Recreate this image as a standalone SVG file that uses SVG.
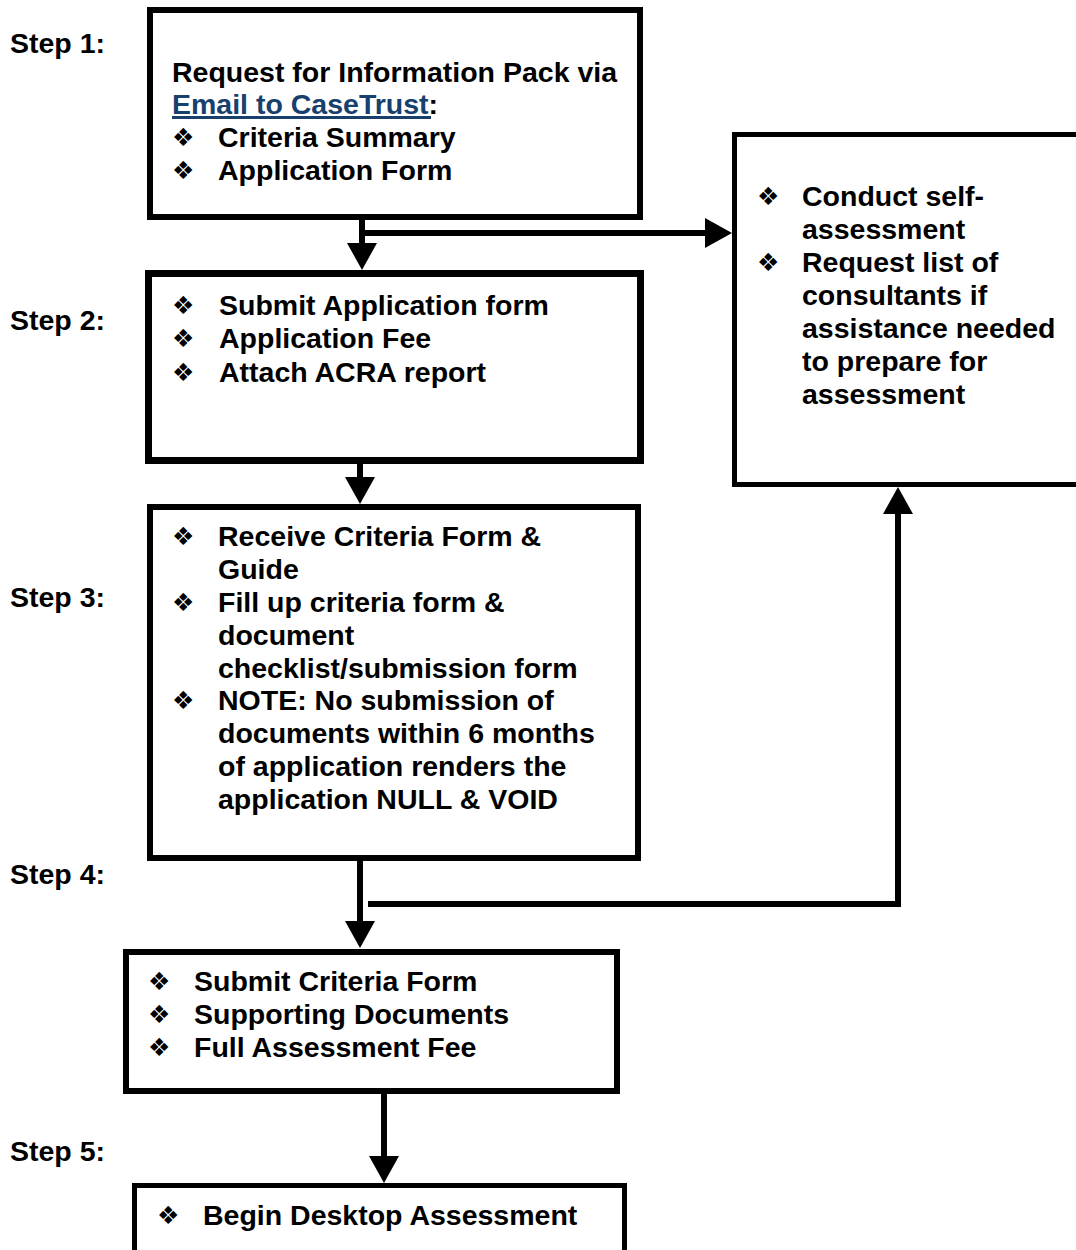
<svg xmlns="http://www.w3.org/2000/svg" width="1076" height="1250" viewBox="0 0 1076 1250">
<style>
.box{fill:#fff;stroke:#000;stroke-width:6}
.t{font-family:"Liberation Sans",Arial,sans-serif;font-weight:bold;font-size:28.5px;fill:#000}
.b{font-family:"DejaVu Sans",sans-serif;font-size:25px;fill:#000}
.link{fill:#17406D}
.c{fill:none;stroke:#000;stroke-width:6;stroke-linejoin:miter}
</style>
<defs>
<marker id="ah" markerUnits="userSpaceOnUse" markerWidth="28" markerHeight="30" refX="0" refY="15" orient="auto" overflow="visible">
<path d="M0,0 L27,15 L0,30 z" fill="#000"/>
</marker>
</defs>
<rect width="1076" height="1250" fill="#fff"/>
<g id="step-labels" class="t">
<text x="10" y="53">Step 1:</text>
<text x="10" y="330">Step 2:</text>
<text x="10" y="607">Step 3:</text>
<text x="10" y="884">Step 4:</text>
<text x="10" y="1161">Step 5:</text>
</g>
<g id="connectors">
<path class="c" d="M362,219 V243" marker-end="url(#ah)"/>
<path class="c" d="M359,233 H705" marker-end="url(#ah)"/>
<path class="c" d="M360,464 V477" marker-end="url(#ah)"/>
<path class="c" d="M360,861 V921" marker-end="url(#ah)"/>
<path class="c" d="M368,904 H898 V514" marker-end="url(#ah)"/>
<path class="c" d="M384,1094 V1156" marker-end="url(#ah)"/>
</g>
<g id="node-step1">
<rect class="box" x="150" y="10" width="490" height="207"/>
<text class="t" x="172" y="82">Request for Information Pack via</text>
<text class="t" x="172" y="114"><tspan class="link">Email to CaseTrust</tspan>:</text>
<line x1="172" y1="117.5" x2="431" y2="117.5" stroke="#17406D" stroke-width="3"/>
<text class="b" x="172" y="146">❖</text><text class="t" x="218" y="147">Criteria Summary</text>
<text class="b" x="172" y="179">❖</text><text class="t" x="218" y="180">Application Form</text>
</g>
<g id="node-step2">
<rect class="box" x="148.5" y="273.5" width="492" height="187" style="stroke-width:7"/>
<text class="b" x="172" y="314">❖</text><text class="t" x="219" y="315">Submit Application form</text>
<text class="b" x="172" y="347">❖</text><text class="t" x="219" y="348">Application Fee</text>
<text class="b" x="172" y="381">❖</text><text class="t" x="219" y="382">Attach ACRA report</text>
</g>
<g id="node-self-assessment">
<rect class="box" x="734.5" y="134.5" width="350" height="350" style="stroke-width:5"/>
<text class="b" x="757" y="205">❖</text><text class="t" x="802" y="206">Conduct self-</text>
<text class="t" x="802" y="239">assessment</text>
<text class="b" x="757" y="271">❖</text><text class="t" x="802" y="272">Request list of</text>
<text class="t" x="802" y="305">consultants if</text>
<text class="t" x="802" y="338">assistance needed</text>
<text class="t" x="802" y="371">to prepare for</text>
<text class="t" x="802" y="404">assessment</text>
</g>
<g id="node-step3">
<rect class="box" x="150" y="507" width="488" height="351"/>
<text class="b" x="172" y="545">❖</text><text class="t" x="218" y="546">Receive Criteria Form &amp;</text>
<text class="t" x="218" y="579">Guide</text>
<text class="b" x="172" y="611">❖</text><text class="t" x="218" y="612">Fill up criteria form &amp;</text>
<text class="t" x="218" y="645">document</text>
<text class="t" x="218" y="678">checklist/submission form</text>
<text class="b" x="172" y="709">❖</text><text class="t" x="218" y="710">NOTE: No submission of</text>
<text class="t" x="218" y="743">documents within 6 months</text>
<text class="t" x="218" y="776">of application renders the</text>
<text class="t" x="218" y="809">application NULL &amp; VOID</text>
</g>
<g id="node-step4">
<rect class="box" x="126" y="952" width="491" height="139"/>
<text class="b" x="148" y="990">❖</text><text class="t" x="194" y="991">Submit Criteria Form</text>
<text class="b" x="148" y="1023">❖</text><text class="t" x="194" y="1024">Supporting Documents</text>
<text class="b" x="148" y="1056">❖</text><text class="t" x="194" y="1057">Full Assessment Fee</text>
</g>
<g id="node-step5">
<rect class="box" x="134.5" y="1185.5" width="490" height="90" style="stroke-width:5"/>
<text class="b" x="157" y="1224">❖</text><text class="t" x="203" y="1225">Begin Desktop Assessment</text>
</g>
</svg>
